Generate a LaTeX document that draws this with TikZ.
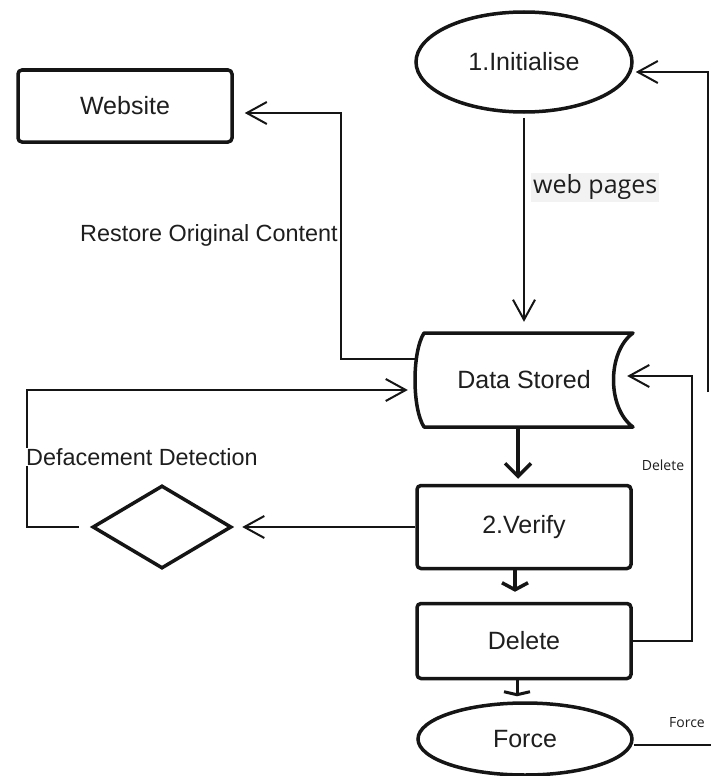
\documentclass[tikz,border=0pt]{standalone}
\usepackage{fontspec}
\setmainfont{Liberation Sans}
\newfontfamily\labelsans{Open Sans}
\usetikzlibrary{arrows.meta,calc,shapes.geometric}
\definecolor{ink}{HTML}{151515}
\definecolor{txt}{HTML}{1E1E1E}
\definecolor{tagbg}{HTML}{F2F2F2}
\begin{document}
\begin{tikzpicture}[x=1pt,y=-1pt,
  nodefont/.style={font=\fontsize{25}{30}\selectfont},
  box/.style={draw=ink,line width=3.5pt,rounded corners=4pt,inner sep=0pt,
              text=txt,nodefont,minimum width=214pt},
  oval/.style={draw=ink,ellipse,line width=3.5pt,inner sep=0pt,text=txt,nodefont},
  lbl/.style={text=txt,inner sep=0pt,font=\fontsize{23.4}{28}\selectfont},
  small/.style={text=txt,inner sep=0pt,font=\labelsans\fontsize{14}{17}\selectfont},
  link/.style={draw=ink,line width=2pt,-{Straight Barb[length=20pt,width=22pt]}},
  heavy/.style={draw=ink,line width=3.5pt,-{Straight Barb[length=13pt,width=26pt]}},
  stub/.style={draw=ink,line width=3.5pt,-{Straight Barb[length=7pt,width=26pt]}},
  flat/.style={draw=ink,line width=3pt,-{Straight Barb[length=3pt,width=26pt]}}
]
\useasboundingbox[fill=white] (0,0) rectangle (711,776);

% process nodes
\node[box,minimum width=214pt,minimum height=72pt] (web) at (125,106) {Website};
\node[oval,minimum width=216pt,minimum height=100pt] (init) at (524,62) {1.Initialise};
\node[inner sep=0pt,minimum width=218pt,minimum height=94pt,text=txt,nodefont]
  (store) at (524,380) {Data Stored};
\node[box,minimum height=83pt] (verify) at (524,527) {2.Verify};
\node[box,minimum height=75pt] (delete) at (524,641) {Delete};
\node[oval,minimum width=214pt,minimum height=72pt] (force) at (525,739) {Force};
\node[draw=ink,diamond,line width=3.5pt,inner sep=0pt,
      minimum width=139pt,minimum height=83pt] (check) at (162,527) {};

% stored-data outline: convex left side, concave right side
\draw[ink,line width=3.5pt,line join=round]
  (424,333) .. controls (412,352) and (412,408) .. (424,427)
  -- (633,427) .. controls (607,408) and (607,352) .. (633,333) -- cycle;

% bend points of the loops
\coordinate (restoreBend) at (341,113);
\coordinate (detectBend) at (27,390);
\coordinate (deleteBend) at (692,376);
\coordinate (loopLow) at (708,392);
\coordinate (forceEnd) at (711,745);

% connectors
\draw[link,shorten <=4pt] (init.south) -- ($(store.north)+(0,-11)$);
\draw[link] ($(store.west)+(3,-21)$) -| (restoreBend) -- ($(web.east)+(11,7)$);
\draw[link] (verify.west) -- ($(check.east)+(9,0)$);
\draw[link] ($(check.west)+(-12,0)$) -| (detectBend) -- ($(store.west)+(-7,10)$);
\draw[heavy] ($(store.south)+(-6,0)$) -- ($(verify.north)+(-6,-5)$);
\draw[stub] ($(verify.south)+(-9,0)$) -- ($(delete.north)+(-9,-10)$);
\draw[flat] ($(delete.south)+(-7,0)$) -- ($(force.north)+(-8,-5)$);
\draw[link] (delete.east) -| (deleteBend) -- ($(store.east)+(-6,-4)$);
\draw[draw=ink,line width=2pt] ($(force.east)+(0,6)$) -- (forceEnd);
\draw[link] (loopLow) |- ($(init.east)+(2,10)$);

% connector labels
\node[fill=tagbg,inner sep=2pt,anchor=west,text=txt,
      font=\labelsans\fontsize{25}{30}\selectfont] (pagesLbl) at (531,187) {web pages};
\node[lbl,anchor=west] (restoreLbl) at (80,235) {Restore Original Content};
\node[lbl,anchor=west,fill=white,inner xsep=1pt] (detectLbl) at (25,457) {Defacement Detection};
\node[small] (deleteLbl) at (663,465) {Delete};
\node[small] (forceLbl) at (687,723) {Force};
\end{tikzpicture}
\end{document}
